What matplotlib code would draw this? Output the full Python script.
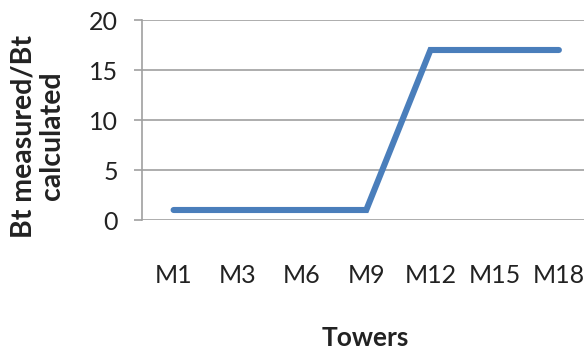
import numpy as np
import matplotlib.pyplot as plt

# tower ratio data
towers = ['M1', 'M3', 'M6', 'M9', 'M12', 'M15', 'M18']
ratio = [1, 1, 1, 1, 17, 17, 17]
yticks = [0, 5, 10, 15, 20]

plt.rcParams['font.family'] = ['Lato', 'DejaVu Sans']

W, H = 584, 352
fig = plt.figure(figsize=(W / 100, H / 100), dpi=100)

# axes box in pixels: left 141.5, right 591, top 20, bottom 220
left, right, top, bottom = 141.5, 591, 20, 220
ax = fig.add_axes([left / W, 1 - bottom / H, (right - left) / W, (bottom - top) / H])

x = np.arange(len(towers))
ax.plot(x, ratio, color='#4A7EBB', lw=4.4, solid_capstyle='round', solid_joinstyle='miter')

ax.set_xlim(-0.5, len(towers) - 0.5)
ax.set_ylim(0, 20)
ax.set_yticks(yticks)
ax.set_xticks(x)
ax.set_xticklabels(towers)

for s in ['top', 'right', 'bottom']:
    ax.spines[s].set_visible(False)
ax.spines['left'].set_color('#A0A0A0')
ax.spines['left'].set_linewidth(1.2)

ax.grid(axis='y', color='#A0A0A0', lw=1.2)
ax.set_axisbelow(True)
ax.tick_params(axis='y', length=6, color='#A0A0A0', width=1.2, labelsize=18, pad=11, labelcolor='#222222')
ax.tick_params(axis='x', length=0, labelsize=18, pad=32, labelcolor='#222222')

fig.text(365 / W, 1 - 338 / H, 'Towers', ha='center', va='center', fontsize=19, fontweight='bold', color='#222222')
fig.text(38 / W, 1 - 136 / H, 'Bt measured/Bt\ncalculated', ha='center', va='center', rotation=90,
         fontsize=20.5, fontweight='bold', color='#222222', linespacing=1.1)

fig.savefig('out.png', dpi=100)
